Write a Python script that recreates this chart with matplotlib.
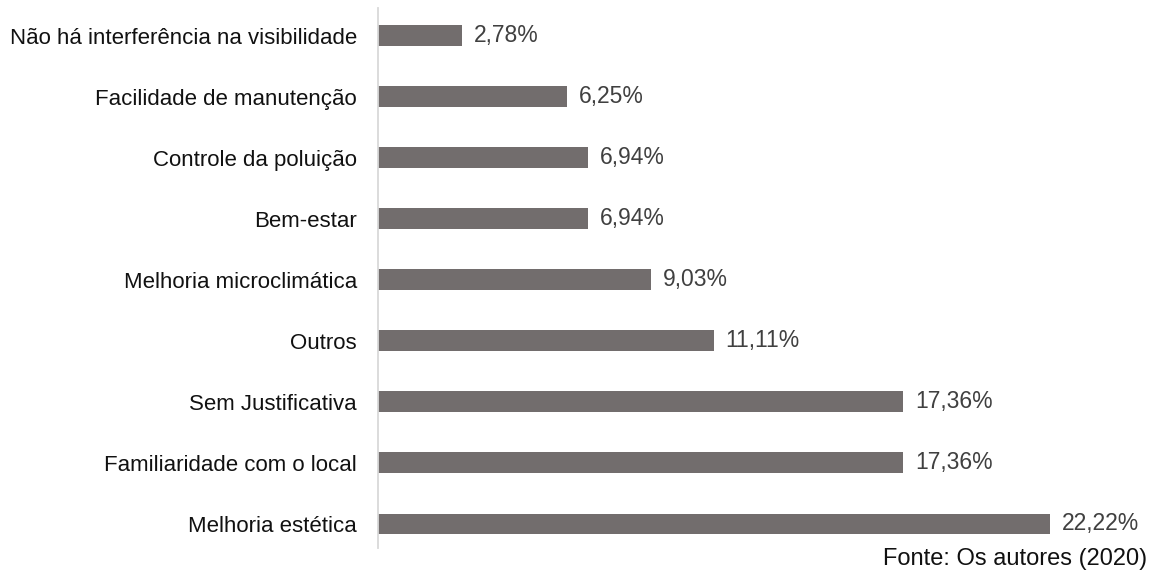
import matplotlib.pyplot as plt

plt.rcParams['font.family'] = ['Liberation Sans', 'DejaVu Sans']

# Categorias (de baixo para cima) e percentuais
categorias = ['Melhoria estética', 'Familiaridade com o local', 'Sem Justificativa',
              'Outros', 'Melhoria microclimática', 'Bem-estar',
              'Controle da poluição', 'Facilidade de manutenção',
              'Não há interferência na visibilidade']
valores = [22.22, 17.36, 17.36, 11.11, 9.03, 6.94, 6.94, 6.25, 2.78]
rotulos = ['22,22%', '17,36%', '17,36%', '11,11%', '9,03%', '6,94%', '6,94%', '6,25%', '2,78%']

fig = plt.figure(figsize=(11.52, 5.75), dpi=100)
ax = fig.add_axes([0.328, 0.047, 0.653, 0.939])

pos = range(len(categorias))
ax.barh(pos, valores, height=0.33, color='#726d6d')

for p, v, r in zip(pos, valores, rotulos):
    ax.text(v + 0.38, p, r, va='center', ha='left', fontsize=16.5, color='#404040')

ax.set_xlim(0, 24.85)
ax.set_ylim(-0.4, 8.45)
ax.set_yticks(list(pos))
ax.set_yticklabels(categorias, fontsize=16, color='#111111')
ax.tick_params(axis='y', length=0, pad=15)
ax.set_xticks([])

for lado in ['top', 'right', 'bottom']:
    ax.spines[lado].set_visible(False)
ax.spines['left'].set_color('#d9d9d9')
ax.spines['left'].set_linewidth(1.3)

fig.text(0.996, 0.028, 'Fonte: Os autores (2020)', ha='right', va='center', fontsize=17, color='#111111')

plt.savefig('out.png', dpi=100)
